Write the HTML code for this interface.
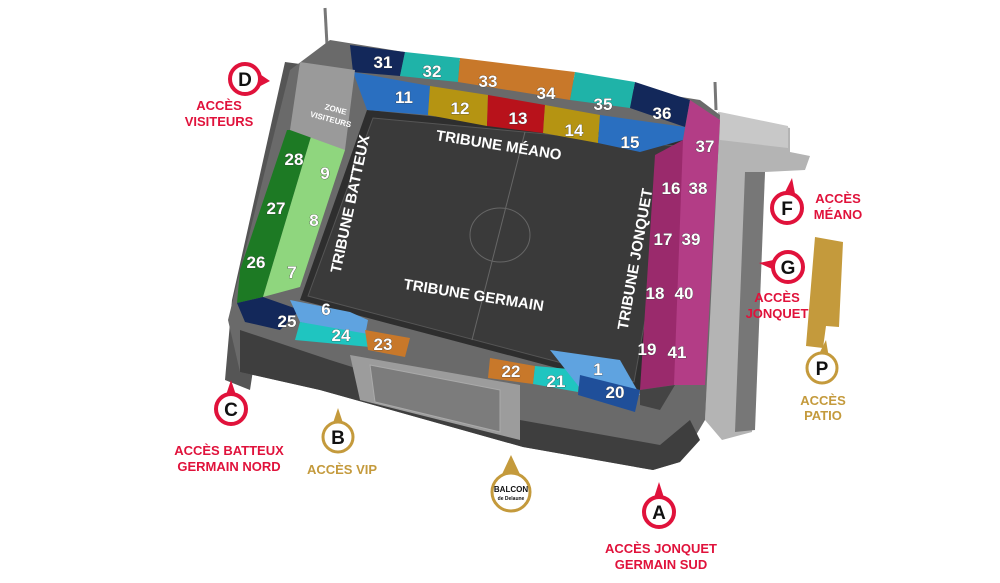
<!DOCTYPE html>
<html><head><meta charset="utf-8"><style>
html,body{margin:0;padding:0;background:#fff}
svg{display:block}
text{font-family:"Liberation Sans",sans-serif;font-weight:bold}
.n{fill:#fff;font-size:17px;text-anchor:middle;stroke:#333;stroke-width:.6px;paint-order:stroke}
.r{fill:#e0123b;font-size:13px;text-anchor:middle}
.g{fill:#c49a3c;font-size:13px;text-anchor:middle}
.t{fill:#fff;font-size:15px;text-anchor:middle}
.m{fill:#111;font-size:19px;text-anchor:middle}
</style></head><body>
<svg width="1000" height="583" viewBox="0 0 1000 583" xmlns="http://www.w3.org/2000/svg">
<!-- masts -->
<line x1="325" y1="8" x2="327" y2="45" stroke="#777" stroke-width="3"/>
<line x1="715" y1="82" x2="716" y2="110" stroke="#777" stroke-width="3"/>
<!-- outer buildings -->
<polygon points="718,112 790,128 790,152 810,156 805,170 765,172 752,432 722,440 705,420" fill="#b4b4b4"/>
<polygon points="720,112 788,126 788,148 720,140" fill="#c8c8c8"/>
<polygon points="745,172 765,172 755,430 735,432" fill="#777"/>
<polygon points="285,62 300,64 250,390 225,380 232,300" fill="#555"/>
<!-- main body -->
<polygon points="330,40 700,100 720,115 705,420 680,462 653,470 523,447 320,390 240,372 228,320 290,70" fill="#6a6a6a"/>
<polygon points="240,330 330,360 520,420 660,445 690,420 700,440 680,462 653,470 523,447 320,390 240,372" fill="#3e3e3e"/>
<polygon points="350,355 520,385 520,440 360,400" fill="#9c9c9c"/>
<polygon points="370,365 500,390 500,432 375,402" fill="#7c7c7c" stroke="#aaa"/>
<!-- field -->
<polygon points="367,110 683,140 640,390 300,300" fill="#2e2e2e"/>
<polygon points="373,118 676,146 634,382 308,296" fill="#3a3a3a" stroke="#555"/>
<line x1="525" y1="132" x2="472" y2="340" stroke="#666"/>
<ellipse cx="500" cy="235" rx="30" ry="27" fill="none" stroke="#666"/>
<!-- top upper tier -->
<polygon points="350,45 405,52 400,76 353,72" fill="#13285a"/>
<polygon points="405,52 460,58 458,82 400,76" fill="#1fb3a8"/>
<polygon points="460,58 575,72 570,100 458,82" fill="#c8782a"/>
<polygon points="575,72 635,82 630,108 570,100" fill="#1fb3a8"/>
<polygon points="635,82 690,100 685,127 630,108" fill="#13285a"/>
<!-- top lower tier -->
<polygon points="353,72 430,86 428,115 367,110" fill="#2a6fc0"/>
<polygon points="430,86 488,95 487,126 428,115" fill="#b59412"/>
<polygon points="488,95 545,105 543,133 487,126" fill="#b8121b"/>
<polygon points="545,105 600,115 598,143 543,133" fill="#b59412"/>
<polygon points="600,115 685,127 683,140 640,152 598,143" fill="#2a6fc0"/>
<!-- right -->
<polygon points="690,100 720,120 705,385 672,385 663,160 683,140" fill="#b33d86"/>
<polygon points="655,155 683,140 674,385 640,390" fill="#9a2a6c"/>
<polygon points="640,390 675,385 660,410 640,405" fill="#444"/>
<!-- left -->
<polygon points="287,130 313,130 263,297 237,303 240,270" fill="#1d7a24"/>
<polygon points="313,130 345,150 300,287 263,297" fill="#8fd67e"/>
<polygon points="300,62 355,70 345,150 290,130" fill="#9a9a9a"/>
<!-- bottom -->
<polygon points="237,303 263,297 300,310 280,330 245,322" fill="#13285a"/>
<polygon points="290,300 350,312 368,320 365,336 300,322" fill="#5fa3e0"/>
<polygon points="300,322 368,334 370,347 295,340" fill="#1fc5c0"/>
<polygon points="365,330 410,338 405,357 368,350" fill="#c8782a"/>
<polygon points="490,358 535,366 533,384 488,378" fill="#c8782a"/>
<polygon points="535,366 580,370 578,392 533,384" fill="#1fc5c0"/>
<polygon points="550,350 620,360 640,395 580,388" fill="#5fa3e0"/>
<polygon points="580,375 640,390 635,412 578,395" fill="#1f4f9a"/>
<!-- numbers -->
<text class="n" x="383" y="68">31</text><text class="n" x="432" y="77">32</text>
<text class="n" x="488" y="87">33</text><text class="n" x="546" y="99">34</text>
<text class="n" x="603" y="110">35</text><text class="n" x="662" y="119">36</text>
<text class="n" x="404" y="103">11</text><text class="n" x="460" y="114">12</text>
<text class="n" x="518" y="124">13</text><text class="n" x="574" y="136">14</text>
<text class="n" x="630" y="148">15</text><text class="n" x="705" y="152">37</text>
<text class="n" x="671" y="194">16</text><text class="n" x="698" y="194">38</text>
<text class="n" x="663" y="245">17</text><text class="n" x="691" y="245">39</text>
<text class="n" x="655" y="299">18</text><text class="n" x="684" y="299">40</text>
<text class="n" x="647" y="355">19</text><text class="n" x="677" y="358">41</text>
<text class="n" x="294" y="165">28</text><text class="n" x="325" y="179">9</text>
<text class="n" x="276" y="214">27</text><text class="n" x="314" y="226">8</text>
<text class="n" x="256" y="268">26</text><text class="n" x="292" y="278">7</text>
<text class="n" x="326" y="315">6</text><text class="n" x="287" y="327">25</text>
<text class="n" x="341" y="341">24</text><text class="n" x="383" y="350">23</text>
<text class="n" x="511" y="377">22</text><text class="n" x="556" y="387">21</text>
<text class="n" x="598" y="375">1</text><text class="n" x="615" y="398">20</text>
<text x="335" y="112" fill="#fff" font-size="8" text-anchor="middle" transform="rotate(15 335 112)">ZONE</text>
<text x="330" y="122" fill="#fff" font-size="8" text-anchor="middle" transform="rotate(15 330 122)">VISITEURS</text>
<text class="t" x="498" y="150" transform="rotate(9 498 150)">TRIBUNE MÉANO</text>
<text class="t" x="473" y="300" transform="rotate(9 473 300)">TRIBUNE GERMAIN</text>
<text class="t" x="355" y="205" transform="rotate(-78 355 205)">TRIBUNE BATTEUX</text>
<text class="t" x="640" y="260" transform="rotate(-80 640 260)">TRIBUNE JONQUET</text>
<!-- gold building -->
<polygon points="815,237 843,242 839,327 826,326 823,348 806,346" fill="#c49a3c"/>
<!-- markers -->
<path d="M245,64 L270,81 L245,94 Z" fill="#e0123b"/><circle cx="245" cy="79" r="15" fill="#fff" stroke="#e0123b" stroke-width="4"/><text class="m" x="245" y="86">D</text>
<path d="M223,404 L231,380 L239,404 Z" fill="#e0123b"/><circle cx="231" cy="409" r="15" fill="#fff" stroke="#e0123b" stroke-width="4"/><text class="m" x="231" y="416">C</text>
<path d="M330,432 L338,408 L346,432 Z" fill="#c49a3c"/><circle cx="338" cy="437" r="15" fill="#fff" stroke="#c49a3c" stroke-width="3"/><text class="m" x="338" y="444">B</text>
<path d="M497,485 L511,455 L525,485 Z" fill="#c49a3c"/><circle cx="511" cy="492" r="19" fill="#fff" stroke="#c49a3c" stroke-width="3"/><text x="511" y="492" font-size="8" text-anchor="middle" fill="#111">BALCON</text><text x="511" y="500" font-size="5" text-anchor="middle" fill="#111">de Delaune</text>
<path d="M651,507 L659,482 L667,507 Z" fill="#e0123b"/><circle cx="659" cy="512" r="15" fill="#fff" stroke="#e0123b" stroke-width="4"/><text class="m" x="659" y="519">A</text>
<path d="M779,204 L792,178 L797,204 Z" fill="#e0123b"/><circle cx="787" cy="208" r="15" fill="#fff" stroke="#e0123b" stroke-width="4"/><text class="m" x="787" y="215">F</text>
<path d="M783,258 L759,263 L783,274 Z" fill="#e0123b"/><circle cx="788" cy="267" r="15" fill="#fff" stroke="#e0123b" stroke-width="4"/><text class="m" x="788" y="274">G</text>
<path d="M814,364 L826,340 L830,364 Z" fill="#c49a3c"/><circle cx="822" cy="368" r="15" fill="#fff" stroke="#c49a3c" stroke-width="3"/><text class="m" x="822" y="375">P</text>
<text class="r" x="219" y="110">ACCÈS</text><text class="r" x="219" y="126">VISITEURS</text>
<text class="r" x="229" y="455">ACCÈS BATTEUX</text><text class="r" x="229" y="471">GERMAIN NORD</text>
<text class="g" x="342" y="474">ACCÈS VIP</text>
<text class="r" x="661" y="553">ACCÈS JONQUET</text><text class="r" x="661" y="569">GERMAIN SUD</text>
<text class="r" x="838" y="203">ACCÈS</text><text class="r" x="838" y="219">MÉANO</text>
<text class="r" x="777" y="302">ACCÈS</text><text class="r" x="777" y="318">JONQUET</text>
<text class="g" x="823" y="405">ACCÈS</text><text class="g" x="823" y="420">PATIO</text>
</svg>
</body></html>
